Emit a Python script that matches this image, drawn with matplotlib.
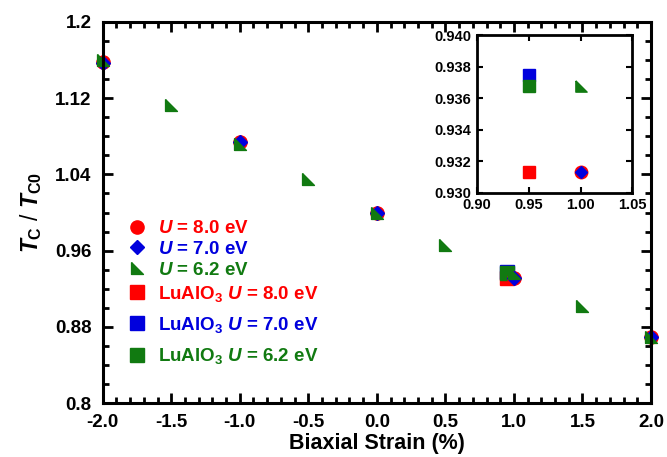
import matplotlib.pyplot as plt
import numpy as np
from matplotlib.ticker import MultipleLocator

plt.rcParams['font.family'] = ['Liberation Sans', 'DejaVu Sans']
plt.rcParams['font.weight'] = 'bold'
plt.rcParams['mathtext.fontset'] = 'custom'
plt.rcParams['mathtext.rm'] = 'Liberation Sans:bold'
plt.rcParams['mathtext.it'] = 'Liberation Sans:italic:bold'
plt.rcParams['mathtext.bf'] = 'Liberation Sans:bold'

# strain (%) and normalised Curie temperature
strain = [-2.0, -1.0, 0.0, 1.0, 2.0]
tc_u80 = [1.158, 1.074, 1.000, 0.9313, 0.869]
tc_u70 = [1.157, 1.074, 1.000, 0.9313, 0.869]
strain_fine = [-2.0, -1.5, -1.0, -0.5, 0.0, 0.5, 1.0, 1.5, 2.0]
tc_u62 = [1.160, 1.113, 1.072, 1.035, 1.000, 0.966, 0.9368, 0.902, 0.869]

# LuAlO3 substrate strain
lualo3_strain = [0.95]
lualo3_u80 = [0.9313]
lualo3_u70 = [0.9375]
lualo3_u62 = [0.9368]

red, blue, green = '#ff0000', '#0000dd', '#117a11'
tri = [(-0.6, 0.6), (-0.6, -0.6), (0.6, -0.6), (-0.6, 0.6)]

fig = plt.figure(figsize=(6.67, 4.57), dpi=100)
ax = fig.add_axes([0.154, 0.118, 0.822, 0.834])


def draw(a, ms):
    kw = dict(ls='none', clip_on=False)
    sq = [
        a.plot(lualo3_strain, lualo3_u80, 's', color=red, ms=ms,
               label=r'LuAlO$_3$ $U$ = 8.0 eV', **kw)[0],
        a.plot(lualo3_strain, lualo3_u70, 's', color=blue, ms=ms,
               label=r'LuAlO$_3$ $U$ = 7.0 eV', **kw)[0],
        a.plot(lualo3_strain, lualo3_u62, 's', color=green, ms=ms,
               label=r'LuAlO$_3$ $U$ = 6.2 eV', **kw)[0],
    ]
    calc = [
        a.plot(strain, tc_u80, 'o', color=red, ms=ms,
               label=r'$U$ = 8.0 eV', **kw)[0],
        a.plot(strain, tc_u70, 'D', color=blue, ms=ms * 0.7,
               label=r'$U$ = 7.0 eV', **kw)[0],
        a.plot(strain_fine, tc_u62, marker=tri, color=green, ms=ms * 0.9,
               label=r'$U$ = 6.2 eV', **kw)[0],
    ]
    return calc, sq


calc, sq = draw(ax, 9.5)
ax.set_xlim(-2, 2)
ax.set_ylim(0.8, 1.2)
xt = np.arange(-2, 2.01, 0.5)
ax.set_xticks(xt)
ax.set_xticklabels(['%.1f' % v for v in xt])
ax.xaxis.set_minor_locator(MultipleLocator(0.1))
yt = np.arange(0.8, 1.201, 0.08)
ax.set_yticks(yt)
ax.set_yticklabels(['0.8', '0.88', '0.96', '1.04', '1.12', '1.2'])
ax.yaxis.set_minor_locator(MultipleLocator(0.02))
ax.tick_params(which='both', direction='in', top=True, right=True,
               width=2, labelsize=13.5, pad=8)
ax.tick_params(which='major', length=7)
ax.tick_params(which='minor', length=4)
for s in ax.spines.values():
    s.set_linewidth(2.2)
ax.set_xlabel('Biaxial Strain (%)', fontsize=15.5, fontweight='bold',
              labelpad=1)
ax.set_ylabel(r'$T_{\rm C}$ / $T_{\rm C0}$', fontsize=16.5, labelpad=8)

colors = [red, blue, green]
leg1 = ax.legend(calc, [h.get_label() for h in calc], loc='upper left',
                 bbox_to_anchor=(0.025, 0.50), frameon=False, fontsize=13.5,
                 handletextpad=0.4, labelspacing=0.2, handlelength=1.4,
                 borderaxespad=0)
for txt, c in zip(leg1.get_texts(), colors):
    txt.set_color(c)
ax.add_artist(leg1)
leg2 = ax.legend(sq, [h.get_label() for h in sq], loc='upper left',
                 bbox_to_anchor=(0.025, 0.333), frameon=False, fontsize=13.5,
                 handletextpad=0.4, labelspacing=0.6, handlelength=1.4,
                 borderaxespad=0)
for txt, c in zip(leg2.get_texts(), colors):
    txt.set_color(c)

# zoomed view around 1 % strain
ins = fig.add_axes([0.715, 0.578, 0.233, 0.345])
draw(ins, 9)
ins.set_xlim(0.90, 1.05)
ins.set_ylim(0.930, 0.940)
ins.set_xticks([0.90, 0.95, 1.00, 1.05])
ins.set_xticklabels(['0.90', '0.95', '1.00', '1.05'])
iy = np.arange(0.930, 0.9401, 0.002)
ins.set_yticks(iy)
ins.set_yticklabels(['%.3f' % v for v in iy])
ins.tick_params(direction='in', top=True, right=True, width=1.5, length=4,
                labelsize=10.5, pad=4)
for s in ins.spines.values():
    s.set_linewidth(2)

fig.savefig('out.png', dpi=100)
